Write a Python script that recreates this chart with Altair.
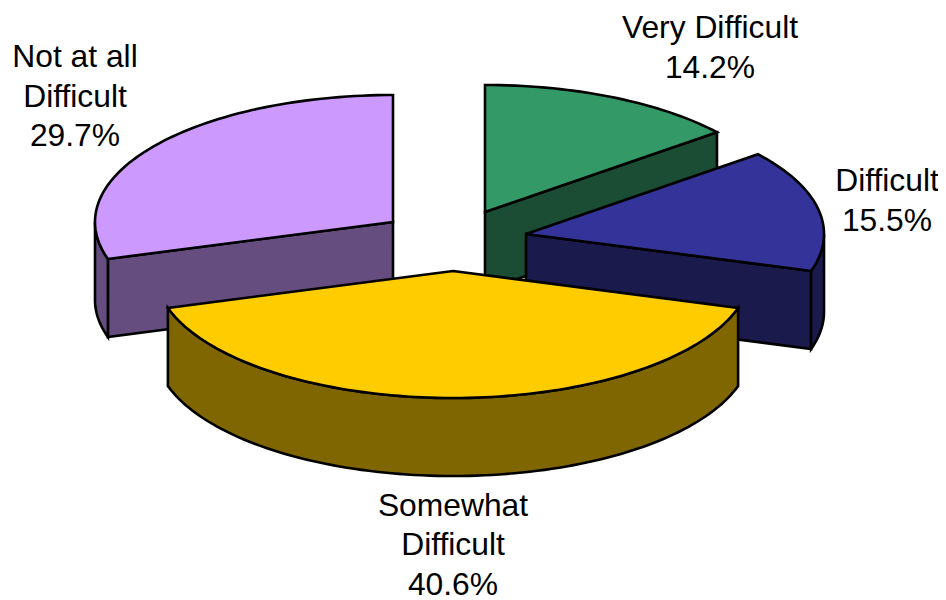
import math
import altair as alt

categories = ["Very Difficult", "Difficult", "Somewhat Difficult", "Not at all Difficult"]
shares = [14.2, 15.5, 40.6, 29.7]
label_text = ["Very Difficult\n14.2%", "Difficult\n15.5%", "Somewhat\nDifficult\n40.6%", "Not at all\nDifficult\n29.7%"]
top_colors = ["#339966", "#333399", "#FFCC00", "#CC99FF"]
side_colors = ["#1A4D33", "#1A1A4D", "#806600", "#664D80"]

# layout of the exploded tilted pie (page pixels)
RX, RY, DEPTH = 298, 127, 78
apexes = [(485, 212), (526, 234), (453, 271), (393, 222)]
first_line_centres = [(710, 28), (887, 181), (453, 505.5), (75, 57)]
DRAW_ORDER = [0, 3, 1, 2]
# which cut face of each slice is turned to the viewer
front_wall = {0: "end", 1: "end", 2: None, 3: "start"}
W, H, M = 930, 592, 8


def pt(apex, deg, drop=0):
    a = math.radians(deg)
    return [apex[0] + RX * math.sin(a), apex[1] - RY * math.cos(a) + drop]


def arc(apex, a0, a1, drop=0):
    n = max(2, int(abs(a1 - a0) / 1.5) + 1)
    return [pt(apex, a0 + (a1 - a0) * i / n, drop) for i in range(n + 1)]


def feature(name, ring, color):
    ring = ring + [ring[0]]
    return {"type": "Feature", "geometry": {"type": "Polygon", "coordinates": [ring]},
            "properties": {"name": name, "fill": color}}


bounds = []
acc = 0.0
total = sum(shares)
for s in shares:
    bounds.append((acc / total * 360, (acc + s) / total * 360))
    acc += s

features = []
for i in DRAW_ORDER:
    apex = apexes[i]
    a0, a1 = bounds[i]
    side = side_colors[i]
    if front_wall[i]:
        edge = a1 if front_wall[i] == "end" else a0
        features.append(feature(categories[i] + " wall",
                                [list(apex), pt(apex, edge), pt(apex, edge, DEPTH),
                                 [apex[0], apex[1] + DEPTH]], side))
    # the outer rim shows only on the lower half of the ellipse
    r0, r1 = max(a0, 90), min(a1, 270)
    if r1 > r0:
        features.append(feature(categories[i] + " rim",
                                arc(apex, r0, r1) + arc(apex, r1, r0, DEPTH), side))
    features.append(feature(categories[i], [list(apex)] + arc(apex, a0, a1), top_colors[i]))

shapes = (
    alt.Chart(alt.Data(values=features))
    .mark_geoshape(stroke="black", strokeWidth=2.6, strokeJoin="miter")
    .encode(fill=alt.Fill("properties.fill:N", scale=None))
    .project(type="identity", scale=1, translate=[-M, -M])
)

labels = (
    alt.Chart(alt.Data(values=[
        {"label": t, "x": c[0], "y": c[1]} for t, c in zip(label_text, first_line_centres)
    ]))
    .mark_text(font="Liberation Sans", fontSize=31.8, lineBreak="\n", lineHeight=39.5,
               align="center", baseline="middle", color="black")
    .encode(
        x=alt.X("x:Q", scale=alt.Scale(domain=[M, M + W], range=[0, W]), axis=None),
        y=alt.Y("y:Q", scale=alt.Scale(domain=[M, M + H], range=[0, H]), axis=None),
        text="label:N",
    )
)

chart = (
    alt.layer(shapes, labels)
    .properties(width=W, height=H, padding=0, autosize=alt.AutoSizeParams(type="none"), background="white")
    .configure_view(stroke=None)
)

chart.save("out.html", embed_options={"renderer": "svg", "actions": False})
